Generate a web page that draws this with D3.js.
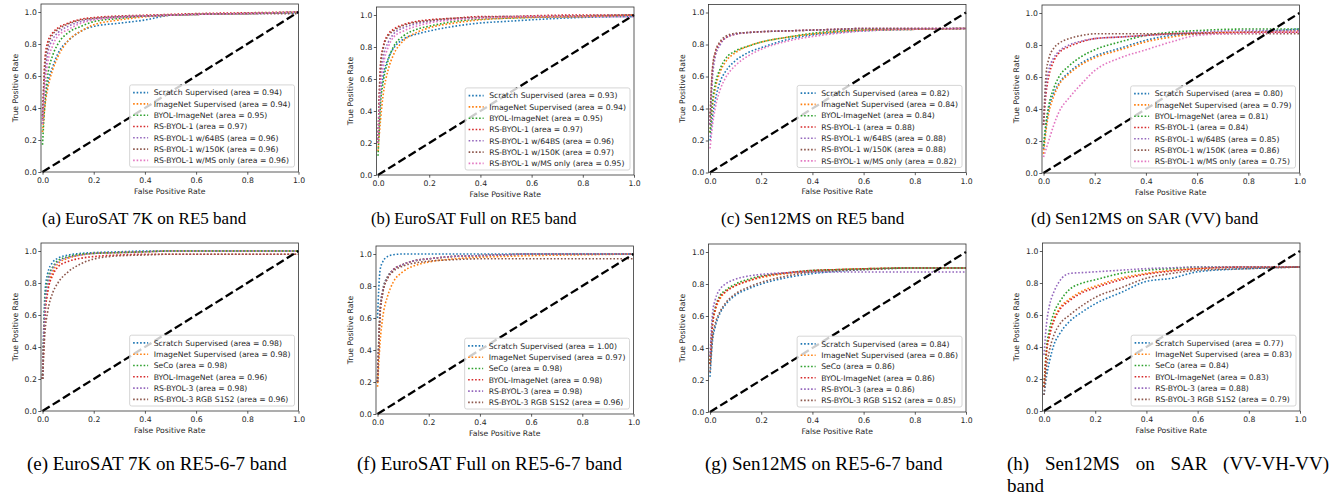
<!DOCTYPE html>
<html>
<head>
<meta charset="utf-8">
<script src="https://cdn.jsdelivr.net/npm/d3@7"></script>
<style>
  body { margin: 0; background: #fff; }
  svg { display: block; }
</style>
</head>
<body>
<svg id="fig" width="1332" height="497"></svg>
<script>
// tab10 colours, in plotting order
const colors = ['#1f77b4', '#ff7f0e', '#2ca02c', '#d62728', '#9467bd', '#8c564b', '#e377c2'];

// shared false positive rate grid the curves were read at
const fpr = [0, 0.01, 0.02, 0.04, 0.06, 0.1, 0.15, 0.2, 0.3, 0.4, 0.5, 0.6, 0.8, 1.0];
const tickValues = [0, 0.2, 0.4, 0.6, 0.8, 1.0];

const namesRow1 = ['Scratch Supervised', 'ImageNet Supervised', 'BYOL-ImageNet', 'RS-BYOL-1',
  'RS-BYOL-1 w/64BS', 'RS-BYOL-1 w/150K', 'RS-BYOL-1 w/MS only'];
const namesRow2 = ['Scratch Supervised', 'ImageNet Supervised', 'SeCo', 'BYOL-ImageNet',
  'RS-BYOL-3', 'RS-BYOL-3 RGB S1S2'];

const captions = [
  '(a) EuroSAT 7K on RE5 band', '(b) EuroSAT Full on RE5 band',
  '(c) Sen12MS on RE5 band', '(d) Sen12MS on SAR (VV) band',
  '(e) EuroSAT 7K on RE5-6-7 band', '(f) EuroSAT Full on RE5-6-7 band',
  '(g) Sen12MS on RE5-6-7 band', '(h) Sen12MS on SAR (VV-VH-VV) band'
];

// areas shown in the legends
const aucA = [0.94, 0.94, 0.95, 0.97, 0.96, 0.96, 0.96];
const aucB = [0.93, 0.94, 0.95, 0.97, 0.96, 0.97, 0.95];
const aucC = [0.82, 0.84, 0.84, 0.88, 0.88, 0.88, 0.82];
const aucD = [0.80, 0.79, 0.81, 0.84, 0.85, 0.86, 0.75];
const aucE = [0.98, 0.98, 0.98, 0.96, 0.98, 0.96];
const aucF = [1.00, 0.97, 0.98, 0.98, 0.98, 0.96];
const aucG = [0.84, 0.86, 0.86, 0.86, 0.86, 0.85];
const aucH = [0.77, 0.83, 0.84, 0.83, 0.88, 0.79];

// true positive rates at the fpr grid, one row per series
const tprA = [
  [0.30, 0.45, 0.55, 0.66, 0.74, 0.82, 0.88, 0.91, 0.93, 0.95, 0.98, 0.985, 0.99, 0.995],
  [0.25, 0.42, 0.52, 0.64, 0.72, 0.82, 0.88, 0.92, 0.95, 0.97, 0.98, 0.985, 0.99, 1.0],
  [0.17, 0.45, 0.60, 0.73, 0.80, 0.87, 0.91, 0.94, 0.96, 0.975, 0.98, 0.985, 0.99, 1.0],
  [0.35, 0.72, 0.81, 0.87, 0.90, 0.93, 0.955, 0.965, 0.975, 0.98, 0.985, 0.99, 0.995, 1.0],
  [0.30, 0.60, 0.74, 0.83, 0.87, 0.91, 0.94, 0.955, 0.97, 0.975, 0.98, 0.985, 0.99, 1.0],
  [0.33, 0.68, 0.78, 0.86, 0.89, 0.925, 0.95, 0.96, 0.97, 0.975, 0.98, 0.985, 0.99, 0.99],
  [0.30, 0.55, 0.68, 0.79, 0.85, 0.89, 0.93, 0.95, 0.965, 0.975, 0.98, 0.985, 0.99, 1.0]
];
const tprB = [
  [0.20, 0.50, 0.62, 0.73, 0.79, 0.85, 0.88, 0.90, 0.93, 0.95, 0.96, 0.97, 0.985, 0.99],
  [0.15, 0.35, 0.50, 0.66, 0.75, 0.84, 0.89, 0.92, 0.95, 0.97, 0.98, 0.985, 0.99, 1.0],
  [0.12, 0.45, 0.58, 0.72, 0.80, 0.87, 0.91, 0.93, 0.96, 0.975, 0.98, 0.985, 0.99, 1.0],
  [0.20, 0.70, 0.80, 0.88, 0.91, 0.94, 0.96, 0.97, 0.98, 0.99, 0.99, 0.995, 1.0, 1.0],
  [0.20, 0.60, 0.73, 0.83, 0.88, 0.92, 0.945, 0.96, 0.975, 0.985, 0.99, 0.99, 0.995, 1.0],
  [0.20, 0.68, 0.79, 0.87, 0.90, 0.935, 0.955, 0.965, 0.98, 0.985, 0.99, 0.99, 0.995, 1.0],
  [0.20, 0.55, 0.68, 0.80, 0.86, 0.90, 0.93, 0.95, 0.97, 0.98, 0.985, 0.99, 0.99, 0.99]
];
const tprC = [
  [0.20, 0.35, 0.45, 0.57, 0.63, 0.70, 0.75, 0.78, 0.83, 0.86, 0.875, 0.885, 0.895, 0.90],
  [0.25, 0.42, 0.52, 0.63, 0.69, 0.75, 0.79, 0.815, 0.845, 0.865, 0.88, 0.89, 0.895, 0.90],
  [0.25, 0.45, 0.55, 0.65, 0.71, 0.76, 0.79, 0.815, 0.845, 0.87, 0.885, 0.89, 0.895, 0.90],
  [0.30, 0.65, 0.74, 0.81, 0.84, 0.865, 0.875, 0.88, 0.885, 0.89, 0.895, 0.90, 0.90, 0.90],
  [0.30, 0.60, 0.72, 0.80, 0.84, 0.865, 0.875, 0.88, 0.885, 0.89, 0.895, 0.90, 0.90, 0.90],
  [0.35, 0.66, 0.75, 0.82, 0.85, 0.87, 0.875, 0.88, 0.885, 0.89, 0.895, 0.90, 0.90, 0.90],
  [0.15, 0.30, 0.40, 0.52, 0.59, 0.67, 0.73, 0.77, 0.82, 0.85, 0.87, 0.885, 0.895, 0.90]
];
const tprD = [
  [0.15, 0.30, 0.40, 0.50, 0.56, 0.63, 0.69, 0.73, 0.78, 0.83, 0.86, 0.87, 0.88, 0.90],
  [0.12, 0.27, 0.37, 0.48, 0.55, 0.62, 0.68, 0.72, 0.77, 0.82, 0.85, 0.87, 0.88, 0.89],
  [0.17, 0.32, 0.42, 0.53, 0.60, 0.67, 0.73, 0.77, 0.82, 0.86, 0.88, 0.89, 0.90, 0.90],
  [0.30, 0.50, 0.60, 0.70, 0.75, 0.79, 0.82, 0.84, 0.85, 0.86, 0.87, 0.875, 0.88, 0.88],
  [0.30, 0.55, 0.64, 0.72, 0.76, 0.80, 0.825, 0.84, 0.85, 0.86, 0.87, 0.88, 0.89, 0.89],
  [0.30, 0.62, 0.71, 0.78, 0.81, 0.84, 0.86, 0.87, 0.87, 0.87, 0.87, 0.87, 0.87, 0.87],
  [0.10, 0.15, 0.20, 0.30, 0.38, 0.47, 0.56, 0.64, 0.72, 0.77, 0.82, 0.86, 0.875, 0.88]
];
const tprE = [
  [0.20, 0.75, 0.86, 0.93, 0.955, 0.975, 0.985, 0.99, 0.995, 1.0, 1.0, 1.0, 1.0, 1.0],
  [0.20, 0.62, 0.75, 0.87, 0.92, 0.955, 0.975, 0.985, 0.99, 0.995, 1.0, 1.0, 1.0, 1.0],
  [0.20, 0.70, 0.82, 0.90, 0.94, 0.965, 0.98, 0.985, 0.99, 0.995, 1.0, 1.0, 1.0, 1.0],
  [0.20, 0.60, 0.74, 0.85, 0.90, 0.935, 0.955, 0.965, 0.975, 0.98, 0.98, 0.98, 0.98, 0.98],
  [0.20, 0.66, 0.79, 0.89, 0.93, 0.96, 0.975, 0.985, 0.99, 0.995, 1.0, 1.0, 1.0, 1.0],
  [0.20, 0.50, 0.62, 0.74, 0.80, 0.87, 0.92, 0.95, 0.97, 0.975, 0.98, 0.98, 0.98, 0.98]
];
const tprF = [
  [0.60, 0.90, 0.95, 0.985, 0.995, 1.0, 1.0, 1.0, 1.0, 1.0, 1.0, 1.0, 1.0, 1.0],
  [0.17, 0.45, 0.60, 0.74, 0.82, 0.89, 0.93, 0.95, 0.97, 0.98, 0.985, 0.99, 0.995, 1.0],
  [0.20, 0.65, 0.77, 0.86, 0.90, 0.935, 0.96, 0.97, 0.985, 0.99, 0.995, 1.0, 1.0, 1.0],
  [0.20, 0.63, 0.76, 0.85, 0.90, 0.935, 0.96, 0.97, 0.985, 0.99, 0.995, 1.0, 1.0, 1.0],
  [0.20, 0.64, 0.77, 0.86, 0.90, 0.935, 0.96, 0.97, 0.985, 0.99, 0.995, 1.0, 1.0, 1.0],
  [0.20, 0.62, 0.75, 0.85, 0.89, 0.925, 0.945, 0.955, 0.965, 0.97, 0.97, 0.97, 0.97, 0.97]
];
const tprG = [
  [0.22, 0.45, 0.53, 0.62, 0.67, 0.73, 0.77, 0.80, 0.84, 0.865, 0.88, 0.89, 0.90, 0.90],
  [0.30, 0.55, 0.63, 0.71, 0.75, 0.79, 0.82, 0.84, 0.865, 0.88, 0.89, 0.895, 0.90, 0.90],
  [0.30, 0.57, 0.65, 0.73, 0.76, 0.80, 0.83, 0.85, 0.87, 0.885, 0.89, 0.895, 0.90, 0.90],
  [0.30, 0.55, 0.64, 0.72, 0.75, 0.79, 0.82, 0.845, 0.87, 0.885, 0.89, 0.895, 0.90, 0.90],
  [0.35, 0.62, 0.70, 0.77, 0.80, 0.83, 0.85, 0.86, 0.87, 0.875, 0.875, 0.875, 0.875, 0.875],
  [0.25, 0.47, 0.55, 0.63, 0.68, 0.74, 0.78, 0.81, 0.85, 0.875, 0.885, 0.89, 0.90, 0.90]
];
const tprH = [
  [0.10, 0.22, 0.30, 0.42, 0.48, 0.56, 0.62, 0.67, 0.74, 0.81, 0.83, 0.87, 0.89, 0.90],
  [0.15, 0.38, 0.47, 0.58, 0.64, 0.70, 0.75, 0.78, 0.83, 0.86, 0.88, 0.89, 0.90, 0.90],
  [0.15, 0.40, 0.50, 0.62, 0.68, 0.76, 0.80, 0.82, 0.86, 0.88, 0.89, 0.90, 0.90, 0.90],
  [0.15, 0.37, 0.46, 0.57, 0.63, 0.69, 0.74, 0.77, 0.82, 0.855, 0.875, 0.89, 0.90, 0.90],
  [0.35, 0.55, 0.65, 0.75, 0.81, 0.86, 0.865, 0.87, 0.88, 0.89, 0.895, 0.90, 0.90, 0.90],
  [0.10, 0.28, 0.37, 0.48, 0.54, 0.60, 0.66, 0.71, 0.77, 0.83, 0.86, 0.88, 0.89, 0.90]
];

// panel frames on the page (layout only)
const frames = [
  {left: 41, top: 4}, {left: 376.5, top: 7}, {left: 708.5, top: 4.5}, {left: 1042, top: 5},
  {left: 41, top: 243}, {left: 376, top: 246}, {left: 708.5, top: 244}, {left: 1042.5, top: 243}
];
// caption start, baseline and font size
const capPos = [
  {x: 42, y: 224, s: 17}, {x: 371, y: 224, s: 16.5}, {x: 721, y: 224, s: 17}, {x: 1031, y: 224, s: 17},
  {x: 27, y: 470, s: 19}, {x: 357, y: 470, s: 19}, {x: 705, y: 470, s: 19}, {x: 1007, y: 470, s: 19}
];
const capRight = 1329; // right margin of the justified caption (h)
const W = 257.5, H = 168;

const panels = [
  {names: namesRow1, auc: aucA, tpr: tprA},
  {names: namesRow1, auc: aucB, tpr: tprB},
  {names: namesRow1, auc: aucC, tpr: tprC},
  {names: namesRow1, auc: aucD, tpr: tprD},
  {names: namesRow2, auc: aucE, tpr: tprE},
  {names: namesRow2, auc: aucF, tpr: tprF},
  {names: namesRow2, auc: aucG, tpr: tprG},
  {names: namesRow2, auc: aucH, tpr: tprH}
];

const svg = d3.select('#fig');
const font = '"DejaVu Sans", sans-serif';
const serif = '"Liberation Serif", "Times New Roman", serif';
const fs = 7.7;

let x = d3.scaleLinear().domain([-0.006, 1.0]).range([0, W]);
let y = d3.scaleLinear().domain([0, 1.05]).range([H, 0]);

let line = d3.line()
  .x(d => x(d[0]))
  .y(d => y(d[1]))
  .curve(d3.curveMonotoneX);

panels.forEach(function(p, i) {
  let f = frames[i];
  let g = svg.append('g').attr('transform', `translate(${f.left},${f.top})`);

  // ROC curves
  p.tpr.forEach(function(row, k) {
    g.append('path')
      .datum(row.map((v, j) => [fpr[j], v]))
      .attr('d', line)
      .attr('fill', 'none')
      .attr('stroke', colors[k])
      .attr('stroke-width', 1.6)
      .attr('stroke-dasharray', '1.6,1.9');
  });

  // chance line
  g.append('path')
    .datum([[0, 0], [1, 1]])
    .attr('d', d3.line().x(d => x(d[0])).y(d => y(d[1])))
    .attr('stroke', '#000')
    .attr('stroke-width', 2.3)
    .attr('stroke-dasharray', '8.4,3.6');

  // axes
  let xa = g.append('g').attr('transform', `translate(0,${H})`)
    .call(d3.axisBottom(x).tickValues(tickValues).tickFormat(d3.format('.1f')).tickSize(2.7).tickPadding(3));
  let ya = g.append('g')
    .call(d3.axisLeft(y).tickValues(tickValues).tickFormat(d3.format('.1f')).tickSize(2.7).tickPadding(1.5));
  [xa, ya].forEach(a => {
    a.select('.domain').remove();
    a.selectAll('line').attr('stroke', '#333').attr('stroke-width', 0.8);
    a.selectAll('text').attr('font-family', font).attr('font-size', fs).attr('fill', '#262626');
  });

  g.append('rect')
    .attr('width', W).attr('height', H)
    .attr('fill', 'none').attr('stroke', '#333').attr('stroke-width', 0.8);

  g.append('text')
    .attr('x', W / 2).attr('y', H + 21.8)
    .attr('text-anchor', 'middle')
    .attr('font-family', font).attr('font-size', fs).attr('fill', '#262626')
    .text('False Positive Rate');
  g.append('text')
    .attr('transform', `translate(-23.3,${H / 2}) rotate(-90)`)
    .attr('text-anchor', 'middle')
    .attr('font-family', font).attr('font-size', fs).attr('fill', '#262626')
    .text('True Positive Rate');

  // legend, lower right
  let lg = g.append('g');
  let labels = p.names.map((n, k) => `${n} (area = ${p.auc[k].toFixed(2)})`);
  let rowH = 11.3;
  let texts = lg.selectAll('text.lab').data(labels).join('text')
    .attr('class', 'lab')
    .attr('font-family', font).attr('font-size', fs).attr('fill', '#262626')
    .text(d => d);
  let maxW = d3.max(texts.nodes(), n => n.getComputedTextLength());
  let lw = 24 + maxW + 4;
  let lh = labels.length * rowH + 3;
  let lx = W - 4 - lw, ly = H - 5 - lh;
  lg.insert('rect', 'text')
    .attr('x', lx).attr('y', ly).attr('width', lw).attr('height', lh)
    .attr('rx', 2)
    .attr('fill', '#fff').attr('fill-opacity', 0.8)
    .attr('stroke', '#ccc').attr('stroke-width', 0.8);
  texts.attr('x', lx + 24).attr('y', (d, k) => ly + 7.7 + k * rowH + 2.7);
  lg.selectAll('line.key').data(labels).join('line')
    .attr('class', 'key')
    .attr('x1', lx + 3.5).attr('x2', lx + 18.5)
    .attr('y1', (d, k) => ly + 7.7 + k * rowH)
    .attr('y2', (d, k) => ly + 7.7 + k * rowH)
    .attr('stroke', (d, k) => colors[k])
    .attr('stroke-width', 1.6)
    .attr('stroke-dasharray', '1.6,1.9');

  // caption
  let c = capPos[i];
  if (i === 7) {
    // justified caption: first line spread to the column edge, last word wraps
    let words = captions[i].split(' ');
    let last = words.pop();
    let spans = words.map(w => svg.append('text')
      .attr('y', c.y)
      .attr('font-family', serif)
      .attr('font-size', c.s).attr('fill', '#000')
      .text(w));
    let widths = spans.map(s => s.node().getComputedTextLength());
    let gap = (capRight - c.x - d3.sum(widths)) / (words.length - 1);
    let cx = c.x;
    spans.forEach((s, k) => { s.attr('x', cx); cx += widths[k] + gap; });
    svg.append('text')
      .attr('x', c.x).attr('y', c.y + 22)
      .attr('font-family', serif)
      .attr('font-size', c.s).attr('fill', '#000')
      .text(last);
  } else {
    svg.append('text')
      .attr('x', c.x).attr('y', c.y)
      .attr('font-family', serif)
      .attr('font-size', c.s).attr('fill', '#000')
      .text(captions[i]);
  }
});
</script>
</body>
</html>
